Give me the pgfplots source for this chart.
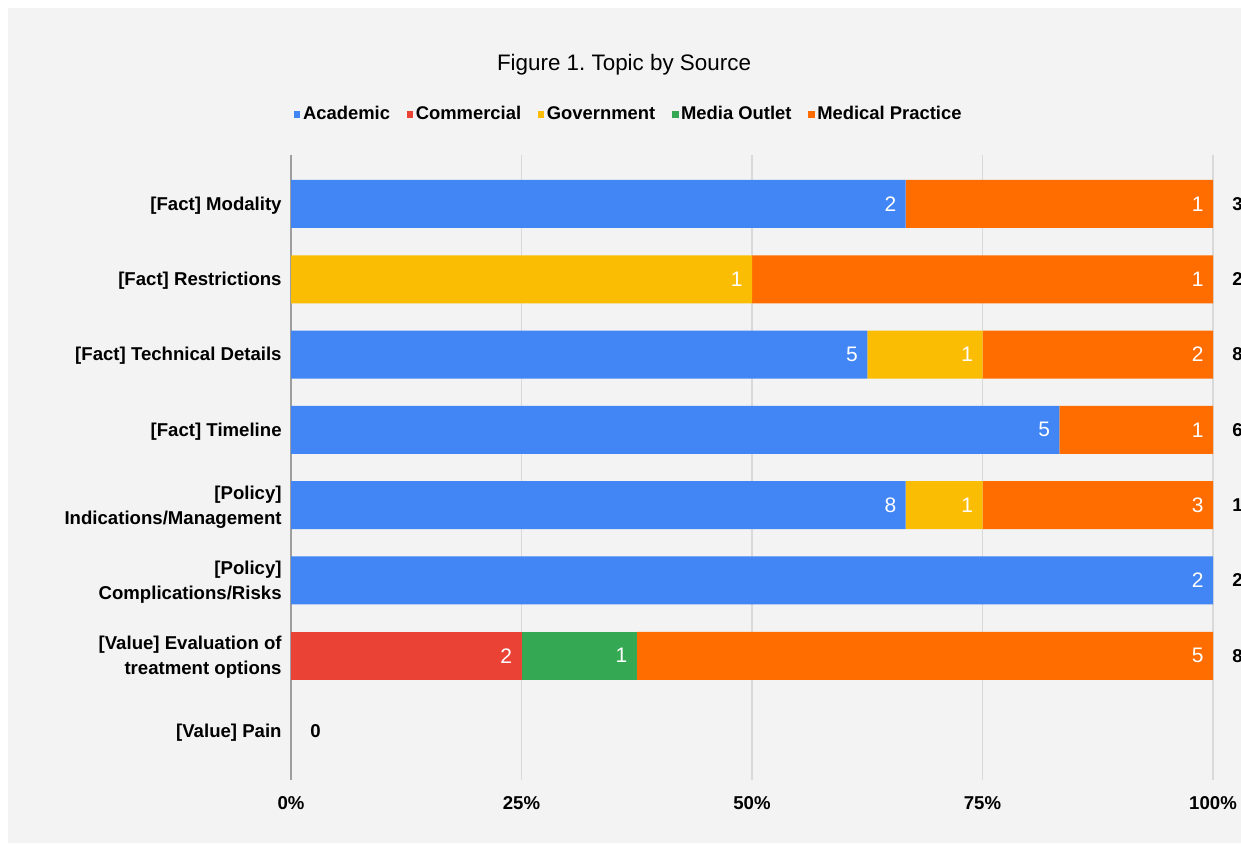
\documentclass[border=0pt]{standalone}
\usepackage{pgfplots}
\pgfplotsset{compat=1.18}
\usepackage{fontspec}
\setmainfont{Liberation Sans}
\frenchspacing
\definecolor{acad}{HTML}{4285F4}
\definecolor{comm}{HTML}{EA4335}
\definecolor{gov}{HTML}{FBBC04}
\definecolor{media}{HTML}{34A853}
\definecolor{medp}{HTML}{FF6D01}
\definecolor{panel}{HTML}{F3F3F3}
\definecolor{gridc}{HTML}{D9D9D9}
\pgfplotsset{
  seglabel/.style={
    nodes near coords,
    visualization depends on={rawx \as \rawx},
    every node near coord/.style={anchor=east, inner sep=0pt,
      xshift={\rawx*2.305pt-4.5pt}, text=white, font=\fontsize{10.5}{12}\selectfont},
  },
  sameframe/.style={
    at={(145.5pt,31.5pt)}, anchor=south west,
    scale only axis, width=461pt, height=312.5pt,
    xmin=0, xmax=100, ymin=-0.65, ymax=7.65, y dir=reverse,
  },
}
\begin{document}
\begin{tikzpicture}
\useasboundingbox (0,0) rectangle (620.5pt,421.5pt);
\clip (0,0) rectangle (620.5pt,421.5pt);
\fill[white] (0,0) rectangle (620.5pt,421.5pt);
\fill[panel] (4pt,0) rectangle (620.5pt,417.5pt);
\node[font=\fontsize{11.2}{13}\selectfont] at (312pt,389pt) {Figure 1. Topic by Source};
\begin{axis}[
  sameframe,
  xbar stacked, bar width=24pt, bar shift=0pt,
  axis line style={draw=none},
  tick style={draw=none},
  xmajorgrids, grid style={gridc, line width=0.6pt},
  extra x ticks={0}, extra x tick labels={},
  extra x tick style={grid style={color=black!38, line width=1pt}},
  xtick={0,25,50,75,100},
  xticklabels={0\%,25\%,50\%,75\%,100\%},
  xticklabel style={font=\bfseries\fontsize{9.3}{11}\selectfont, inner sep=0pt, yshift=-8pt},
  ytick={0,1,2,3,4,5,6,7},
  yticklabels={{[Fact] Modality},{[Fact] Restrictions},{[Fact] Technical Details},{[Fact] Timeline},{[Policy]\\Indications/Management},{[Policy]\\Complications/Risks},{[Value] Evaluation of\\treatment options},{[Value] Pain}},
  yticklabel style={font=\bfseries\fontsize{9.3}{12.5}\selectfont, align=right, inner sep=0pt, xshift=-4.5pt, yshift=-0.8pt},
  point meta=explicit symbolic,
  legend columns=-1,
  legend style={at={(0.3666,1.0656)}, anchor=center, draw=none, fill=none,
    font=\bfseries\fontsize{9.2}{11}\selectfont, inner sep=0pt,
    /tikz/every even column/.append style={column sep=7pt},
    nodes={inner sep=1.3pt, text height=0.72em, text depth=0.2em}},
  legend image code/.code={\fill[#1] (-1.8pt,-1.75pt) rectangle (1.5pt,1.75pt);},
]
\addplot[fill=acad, draw=none, seglabel] coordinates {(66.667,0)[2] (0,1)[] (62.5,2)[5] (83.333,3)[5] (66.667,4)[8] (100,5)[2] (0,6)[] (0,7)[]};
\addlegendentry{Academic}
\addplot[fill=comm, draw=none, seglabel] coordinates {(0,0)[] (0,1)[] (0,2)[] (0,3)[] (0,4)[] (0,5)[] (25,6)[2] (0,7)[]};
\addlegendentry{Commercial}
\addplot[fill=gov, draw=none, seglabel] coordinates {(0,0)[] (50,1)[1] (12.5,2)[1] (0,3)[] (8.333,4)[1] (0,5)[] (0,6)[] (0,7)[]};
\addlegendentry{Government}
\addplot[fill=media, draw=none, seglabel] coordinates {(0,0)[] (0,1)[] (0,2)[] (0,3)[] (0,4)[] (0,5)[] (12.5,6)[1] (0,7)[]};
\addlegendentry{Media Outlet}
\addplot[fill=medp, draw=none, seglabel] coordinates {(33.333,0)[1] (50,1)[1] (25,2)[2] (16.667,3)[1] (25,4)[3] (0,5)[] (62.5,6)[5] (0,7)[]};
\addlegendentry{Medical Practice}
\end{axis}
\begin{axis}[
  sameframe, hide axis, clip=false,
  point meta=explicit symbolic,
]
\addplot[only marks, mark=none, nodes near coords,
  every node near coord/.style={anchor=west, inner sep=0pt, xshift=9.5pt,
    text=black, font=\bfseries\fontsize{9.3}{11}\selectfont}]
  coordinates {(100,0)[3] (100,1)[2] (100,2)[8] (100,3)[6] (100,4)[12] (100,5)[2] (100,6)[8] (0,7)[0]};
\end{axis}
\end{tikzpicture}
\end{document}
